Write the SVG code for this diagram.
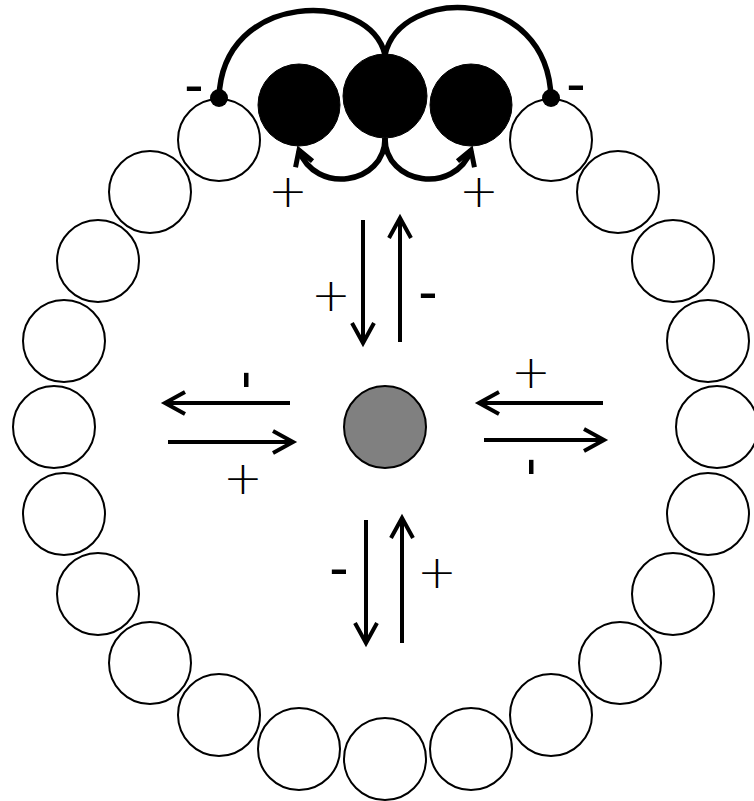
<svg xmlns="http://www.w3.org/2000/svg" width="754" height="801" viewBox="0 0 754 801">
<style>
.ring{fill:#fff;stroke:#000;stroke-width:2}
.blk{fill:#000;stroke:#000;stroke-width:1}
.ctr{fill:#808080;stroke:#000;stroke-width:2}
.ar{stroke:#000;stroke-width:4;fill:none;marker-end:url(#open)}
.cv{stroke:#000;stroke-width:5.5;fill:none}
.lb{font-family:"Liberation Sans",Arial,sans-serif;font-size:58px;text-anchor:middle;fill:#000}
.pl{font-family:"DejaVu Sans",sans-serif;font-weight:200;font-size:47px;text-anchor:middle;fill:#000}
</style>
<defs>
<marker id="open" markerUnits="userSpaceOnUse" markerWidth="30" markerHeight="30" viewBox="-24 -15 30 30" refX="0" refY="0" orient="auto" overflow="visible">
<path d="M-20,-11 L0,0 L-20,11" fill="none" stroke="#000" stroke-width="4"/>
</marker>
<marker id="thick" markerUnits="userSpaceOnUse" markerWidth="30" markerHeight="30" viewBox="-24 -15 30 30" refX="0" refY="0" orient="auto" overflow="visible">
<path d="M-15,-9 L0,0 L-15,9" fill="none" stroke="#000" stroke-width="5"/>
</marker>
</defs>
<g id="ring">
<circle class="ring" cx="54" cy="427" r="41"/>
<circle class="ring" cx="64" cy="341" r="41"/>
<circle class="ring" cx="98" cy="261" r="41"/>
<circle class="ring" cx="150" cy="192" r="41"/>
<circle class="ring" cx="219" cy="140" r="41"/>
<circle class="ring" cx="551" cy="140" r="41"/>
<circle class="ring" cx="618" cy="192" r="41"/>
<circle class="ring" cx="673" cy="261" r="41"/>
<circle class="ring" cx="708" cy="341" r="41"/>
<circle class="ring" cx="717" cy="427" r="41"/>
<circle class="ring" cx="708" cy="514" r="41"/>
<circle class="ring" cx="673" cy="594" r="41"/>
<circle class="ring" cx="620" cy="663" r="41"/>
<circle class="ring" cx="551" cy="715" r="41"/>
<circle class="ring" cx="471" cy="749" r="41"/>
<circle class="ring" cx="385" cy="759" r="41"/>
<circle class="ring" cx="299" cy="749" r="41"/>
<circle class="ring" cx="219" cy="715" r="41"/>
<circle class="ring" cx="150" cy="663" r="41"/>
<circle class="ring" cx="98" cy="594" r="41"/>
<circle class="ring" cx="64" cy="514" r="41"/>
</g>
<g id="black-left"><circle class="blk" cx="299" cy="105" r="41"/></g>
<g id="black-center"><circle class="blk" cx="385" cy="96" r="42"/></g>
<g id="black-right"><circle class="blk" cx="471" cy="105" r="41"/></g>
<g id="center"><circle class="ctr" cx="385" cy="427" r="41"/></g>
<g id="connectors">
<circle cx="219" cy="98" r="9" fill="#000"/>
<circle cx="551" cy="98" r="9" fill="#000"/>
<path class="cv" d="M219,98 C222,-10 370,-10 385,55"/>
<path class="cv" d="M551,98 C548,-14 400,-14 385,55"/>
<path class="cv" d="M385,138 C385,185 315,195 299,150" marker-end="url(#thick)"/>
<path class="cv" d="M385,138 C385,185 455,195 471,150" marker-end="url(#thick)"/>
<line class="ar" x1="363" y1="220" x2="363" y2="343"/>
<line class="ar" x1="400" y1="342" x2="400" y2="218"/>
<line class="ar" x1="290" y1="403" x2="165" y2="403"/>
<line class="ar" x1="168" y1="442" x2="293" y2="442"/>
<line class="ar" x1="603" y1="403" x2="479" y2="403"/>
<line class="ar" x1="484" y1="440" x2="604" y2="440"/>
<line class="ar" x1="366" y1="520" x2="366" y2="643"/>
<line class="ar" x1="402" y1="643" x2="402" y2="518"/>
</g>
<g id="labels">
<text class="lb" x="194" y="104">-</text>
<text class="lb" x="576" y="103">-</text>
<text class="pl" x="288" y="207">+</text>
<text class="pl" x="479" y="207">+</text>
<text class="pl" x="331" y="311">+</text>
<text class="lb" x="428" y="311">-</text>
<text class="lb" x="248" y="397" transform="rotate(90 248 380)">-</text>
<text class="pl" x="243" y="494">+</text>
<text class="pl" x="531" y="388">+</text>
<text class="lb" x="533" y="484" transform="rotate(90 533 467)">-</text>
<text class="lb" x="339" y="587">-</text>
<text class="pl" x="437" y="588">+</text>
</g>
</svg>
